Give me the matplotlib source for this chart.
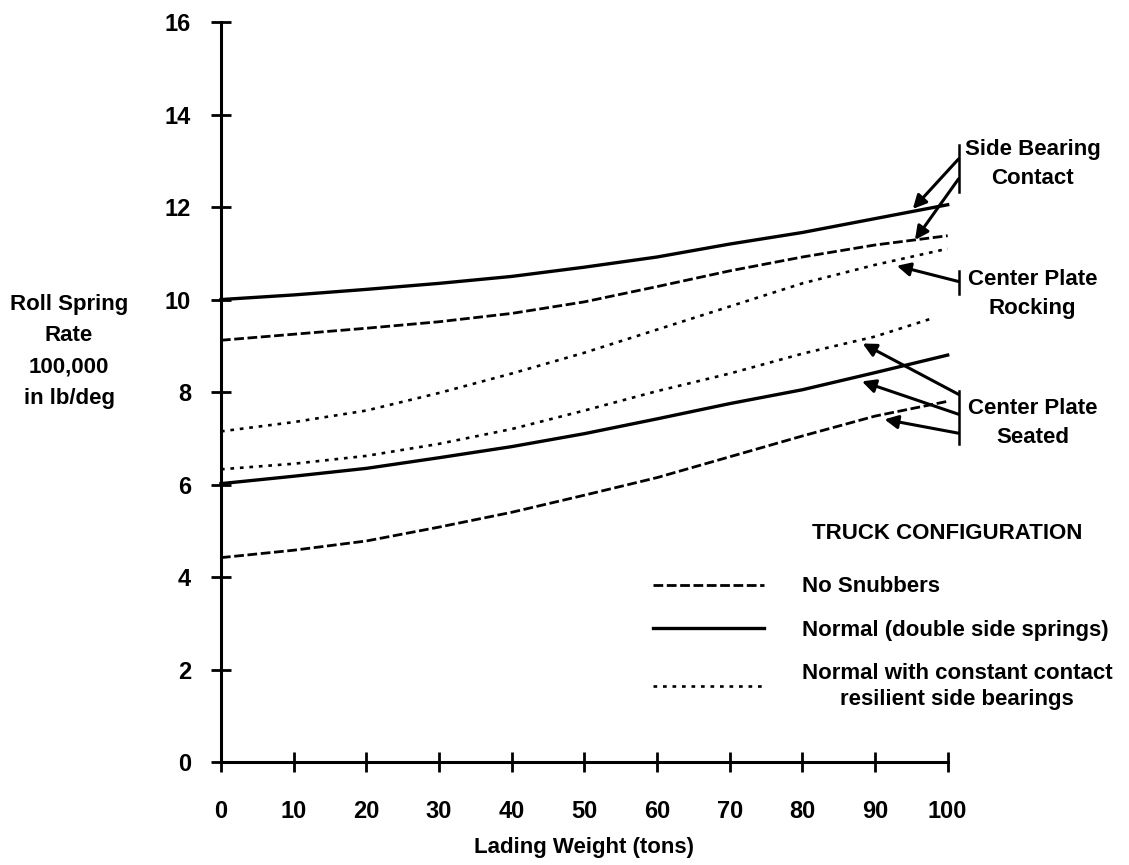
import matplotlib
matplotlib.use('Agg')
import matplotlib.pyplot as plt

# 数据
weight = [0, 10, 20, 30, 40, 50, 60, 70, 80, 90, 100]

# Side bearing contact
normal_sbc = [10.0, 10.1, 10.22, 10.35, 10.5, 10.7, 10.92, 11.2, 11.45, 11.75, 12.05]
nosnub_sbc = [9.12, 9.25, 9.38, 9.52, 9.7, 9.95, 10.28, 10.62, 10.92, 11.18, 11.38]
# Center plate rocking
cc_rocking = [7.15, 7.35, 7.6, 7.98, 8.4, 8.85, 9.35, 9.85, 10.35, 10.75, 11.1]
# Center plate seated
cc_seated_x = [0, 10, 20, 30, 40, 50, 60, 70, 80, 90, 98]
cc_seated = [6.33, 6.45, 6.62, 6.88, 7.2, 7.6, 8.02, 8.4, 8.83, 9.2, 9.6]
normal_seated = [6.02, 6.18, 6.35, 6.58, 6.82, 7.1, 7.42, 7.75, 8.05, 8.42, 8.8]
nosnub_seated = [4.42, 4.58, 4.78, 5.08, 5.4, 5.77, 6.15, 6.6, 7.05, 7.48, 7.8]

x_ticks = list(range(0, 101, 10))
y_ticks = list(range(0, 17, 2))

legend_labels = ['No Snubbers',
                 'Normal (double side springs)',
                 'Normal with constant contact\nresilient side bearings']

# 注释: 文字, 文字位置, 括号范围, 箭头 (起点 -> 终点)
notes = [
    ('Side Bearing\nContact', (111.7, 12.93), (13.34, 12.33),
     [((101.5, 13.04), (95.2, 11.96)), ((101.5, 12.61), (95.5, 11.29))]),
    ('Center Plate\nRocking', (111.7, 10.12), (10.61, 10.13),
     [((101.5, 10.39), (93.0, 10.73))]),
    ('Center Plate\nSeated', (111.7, 7.33), (8.02, 6.88),
     [((101.5, 7.95), (88.3, 9.05)), ((101.5, 7.52), (88.2, 8.23)),
      ((101.5, 7.11), (91.3, 7.41))]),
]
bracket_x = 101.5

plt.rcParams['font.family'] = ['Liberation Sans', 'DejaVu Sans']
plt.rcParams['font.weight'] = 'bold'
FS = 16

fig = plt.figure(figsize=(11.29, 8.65), dpi=100)
ax = fig.add_axes([0.1957, 0.119, 0.6437, 0.8555])

solid = dict(color='black', lw=2.4, ls='-', clip_on=False)
dashed = dict(color='black', lw=2.0, ls=(0, (3.5, 1.3)), clip_on=False)
dotted = dict(color='black', lw=1.9, ls=(0, (1.4, 2.2)), clip_on=False)

h_dash, = ax.plot(weight, nosnub_sbc, **dashed)
ax.plot(weight, nosnub_seated, **dashed)
h_solid, = ax.plot(weight, normal_sbc, **solid)
ax.plot(weight, normal_seated, **solid)
h_dot, = ax.plot(weight, cc_rocking, **dotted)
ax.plot(cc_seated_x, cc_seated, **dotted)

ax.set_xlim(0, 100)
ax.set_ylim(0, 16)
ax.set_xticks(x_ticks)
ax.set_yticks(y_ticks)
for s in ['top', 'right']:
    ax.spines[s].set_visible(False)
for s in ['left', 'bottom']:
    ax.spines[s].set_linewidth(2.2)
ax.tick_params(axis='both', direction='inout', length=15, width=2.0,
               labelsize=17)
ax.tick_params(axis='x', pad=20)
ax.tick_params(axis='y', pad=14)

ax.set_xlabel('Lading Weight (tons)', fontsize=FS, fontweight='bold')
ax.xaxis.set_label_coords(0.5, -0.116)
ax.xaxis.label.set_va('center')
ax.set_ylabel('Roll Spring\nRate\n100,000\nin lb/deg', fontsize=FS,
              fontweight='bold', rotation=0, ha='center', va='center',
              multialignment='center', linespacing=1.65)
ax.yaxis.set_label_coords(-0.209, 0.555)

# 注释与箭头
for text, pos, (y0, y1), arrows in notes:
    ax.text(pos[0], pos[1], text, ha='center', va='center', fontsize=FS,
            fontweight='bold', linespacing=1.5, clip_on=False)
    ax.plot([bracket_x, bracket_x], [y0, y1], color='black', lw=1.8,
            clip_on=False)
    for tail, tip in arrows:
        ax.annotate('', xy=tip, xytext=tail, annotation_clip=False,
                    arrowprops=dict(arrowstyle='-|>', color='black', lw=2.2,
                                    mutation_scale=20, shrinkA=0, shrinkB=0))

# 图例
ax.text(100, 4.94, 'TRUCK CONFIGURATION', ha='center', va='center',
        fontsize=FS, fontweight='bold', clip_on=False)
leg = ax.legend([h_dash, h_solid, h_dot], legend_labels, loc='upper left',
                bbox_to_anchor=(0.594, 0.251), frameon=False,
                prop={'size': FS, 'weight': 'bold'}, handlelength=5.0,
                handletextpad=1.7, labelspacing=1.0, borderpad=0,
                borderaxespad=0)
leg.get_texts()[2].set_multialignment('center')
leg.get_texts()[2].set_linespacing(1.3)

plt.savefig('out.png', dpi=100)
